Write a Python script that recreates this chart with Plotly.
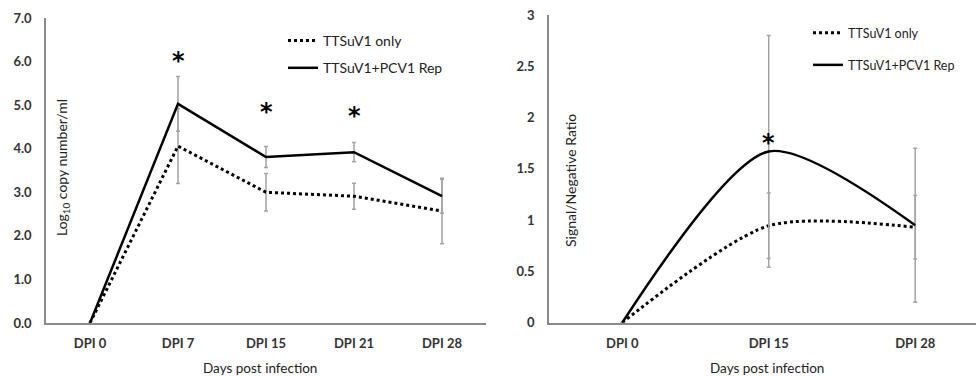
import plotly.graph_objects as go

# ---------------- data ----------------
categories_left = ["DPI 0", "DPI 7", "DPI 15", "DPI 21", "DPI 28"]
only_left = [0, 4.06, 3.00, 2.91, 2.57]
only_left_err = [None, 0.86, 0.43, 0.30, 0.75]
rep_left = [0, 5.03, 3.81, 3.92, 2.91]
rep_left_err = [None, 0.63, 0.24, 0.22, 0.39]
stars_left_x = ["DPI 7", "DPI 15", "DPI 21"]
stars_left_y = [6.1, 4.93, 4.84]

categories_right = ["DPI 0", "DPI 15", "DPI 28"]
only_right = [0, 0.945, 0.93]
only_right_err = [None, 0.32, 0.31]
rep_right = [0, 1.67, 0.95]
rep_right_err = [None, 1.13, 0.75]
stars_right_x = ["DPI 15"]
stars_right_y = [1.78]

yticks_left = [0, 1, 2, 3, 4, 5, 6, 7]
yticks_left_text = ["0.0", "1.0", "2.0", "3.0", "4.0", "5.0", "6.0", "7.0"]
yticks_right = [0, 0.5, 1, 1.5, 2, 2.5, 3]
yticks_right_text = ["0", "0.5", "1", "1.5", "2", "2.5", "3"]

name_only = "TTSuV1 only"
name_rep = "TTSuV1+PCV1 Rep"

FONT = "Lato"
ERR_COLOR = "#a3a3a3"
AXIS_COLOR = "#8a8a8a"
TICK_COLOR = "#333333"

fig = go.Figure()

def err(vals):
    return dict(type="data", array=vals, visible=True, color=ERR_COLOR,
                thickness=1.5, width=2)

# left panel
fig.add_trace(go.Scatter(x=categories_left, y=only_left, mode="lines", name=name_only,
                         line=dict(color="black", width=3, dash="3px,3px"),
                         error_y=err(only_left_err), xaxis="x", yaxis="y",
                         legend="legend", legendgroup="a"))
fig.add_trace(go.Scatter(x=categories_left, y=rep_left, mode="lines", name=name_rep,
                         line=dict(color="black", width=2.5),
                         error_y=err(rep_left_err), xaxis="x", yaxis="y",
                         legend="legend", legendgroup="b"))
# right panel
fig.add_trace(go.Scatter(x=categories_right, y=only_right, mode="lines", name=name_only,
                         line=dict(color="black", width=3, dash="3px,3px", shape="spline", smoothing=0.75),
                         error_y=err(only_right_err), xaxis="x2", yaxis="y2",
                         legend="legend2", legendgroup="c"))
fig.add_trace(go.Scatter(x=categories_right, y=rep_right, mode="lines", name=name_rep,
                         line=dict(color="black", width=2.5, shape="spline", smoothing=0.75),
                         error_y=err(rep_right_err), xaxis="x2", yaxis="y2",
                         legend="legend2", legendgroup="d"))

W, H = 976, 376
ydom_l = [(H - 323) / H, (H - 18) / H]
ydom_r = [(H - 322.7) / H, (H - 15) / H]

xaxis_common = dict(type="category", showline=True, linecolor=AXIS_COLOR, linewidth=1.5,
                    ticks="", showgrid=False, zeroline=False, automargin=False,
                    tickfont=dict(family=FONT, size=13, color=TICK_COLOR, weight="bold"),
                    ticklabelstandoff=8)
yaxis_common = dict(showline=True, linecolor=AXIS_COLOR, linewidth=1.5, ticks="",
                    showgrid=False, zeroline=False, automargin=False,
                    tickfont=dict(family=FONT, size=13, color=TICK_COLOR, weight="bold"),
                    ticklabelstandoff=10)

fig.update_layout(
    width=W, height=H,
    margin=dict(l=0, r=0, t=0, b=0),
    paper_bgcolor="white", plot_bgcolor="white",
    template="none",
    xaxis=dict(xaxis_common, domain=[46 / W, 486 / W], range=[-0.5, 4.5],
               categoryorder="array", categoryarray=categories_left, anchor="y"),
    yaxis=dict(yaxis_common, domain=ydom_l, range=[0, 7], tickvals=yticks_left,
               ticktext=yticks_left_text, anchor="x"),
    xaxis2=dict(xaxis_common, domain=[549 / W, 1.0], range=[-0.5, 2.415],
                categoryorder="array", categoryarray=categories_right, anchor="y2"),
    yaxis2=dict(yaxis_common, domain=ydom_r, range=[0, 3], tickvals=yticks_right,
                ticktext=yticks_right_text, anchor="x2"),
    legend=dict(x=283 / W, y=1 - 25 / H, xanchor="left", yanchor="top",
                font=dict(family=FONT, size=14, color="#222"), bgcolor="rgba(0,0,0,0)",
                traceorder="grouped", tracegroupgap=6, itemwidth=30),
    legend2=dict(x=808 / W, y=1 - 18 / H, xanchor="left", yanchor="top",
                 font=dict(family=FONT, size=12.5, color="#222"), bgcolor="rgba(0,0,0,0)",
                 traceorder="grouped", tracegroupgap=13, itemwidth=30),
    showlegend=True,
)

STAR_FONT = dict(family="DejaVu Sans", size=24, color="black", weight="bold")
ann = []
for xv, yv in zip(stars_left_x, stars_left_y):
    ann.append(dict(x=xv, y=yv, xref="x", yref="y", text="*", showarrow=False,
                    font=STAR_FONT, yanchor="middle", yshift=-4))
for xv, yv in zip(stars_right_x, stars_right_y):
    ann.append(dict(x=xv, y=yv, xref="x2", yref="y2", text="*", showarrow=False,
                    font=STAR_FONT, yanchor="middle", yshift=-3))
# axis titles
ann.append(dict(x=62 / W, y=1 - 168 / H, xref="paper", yref="paper",
                text="Log<sub>10</sub> copy number/ml", textangle=-90, showarrow=False,
                xanchor="center", yanchor="middle",
                font=dict(family=FONT, size=14, color="#222")))
ann.append(dict(x=570 / W, y=1 - 181 / H, xref="paper", yref="paper",
                text="Signal/Negative Ratio", textangle=-90, showarrow=False,
                xanchor="center", yanchor="middle",
                font=dict(family=FONT, size=14, color="#222")))
ann.append(dict(x=260 / W, y=1 - 368 / H, xref="paper", yref="paper",
                text="Days post infection", showarrow=False,
                xanchor="center", yanchor="middle",
                font=dict(family=FONT, size=13.5, color="#222")))
ann.append(dict(x=767 / W, y=1 - 368 / H, xref="paper", yref="paper",
                text="Days post infection", showarrow=False,
                xanchor="center", yanchor="middle",
                font=dict(family=FONT, size=13.5, color="#222")))
fig.update_layout(annotations=ann)

fig.write_html("out.html", config={"displayModeBar": False},
               post_script="document.body.style.margin='0';document.body.style.padding='0';")
